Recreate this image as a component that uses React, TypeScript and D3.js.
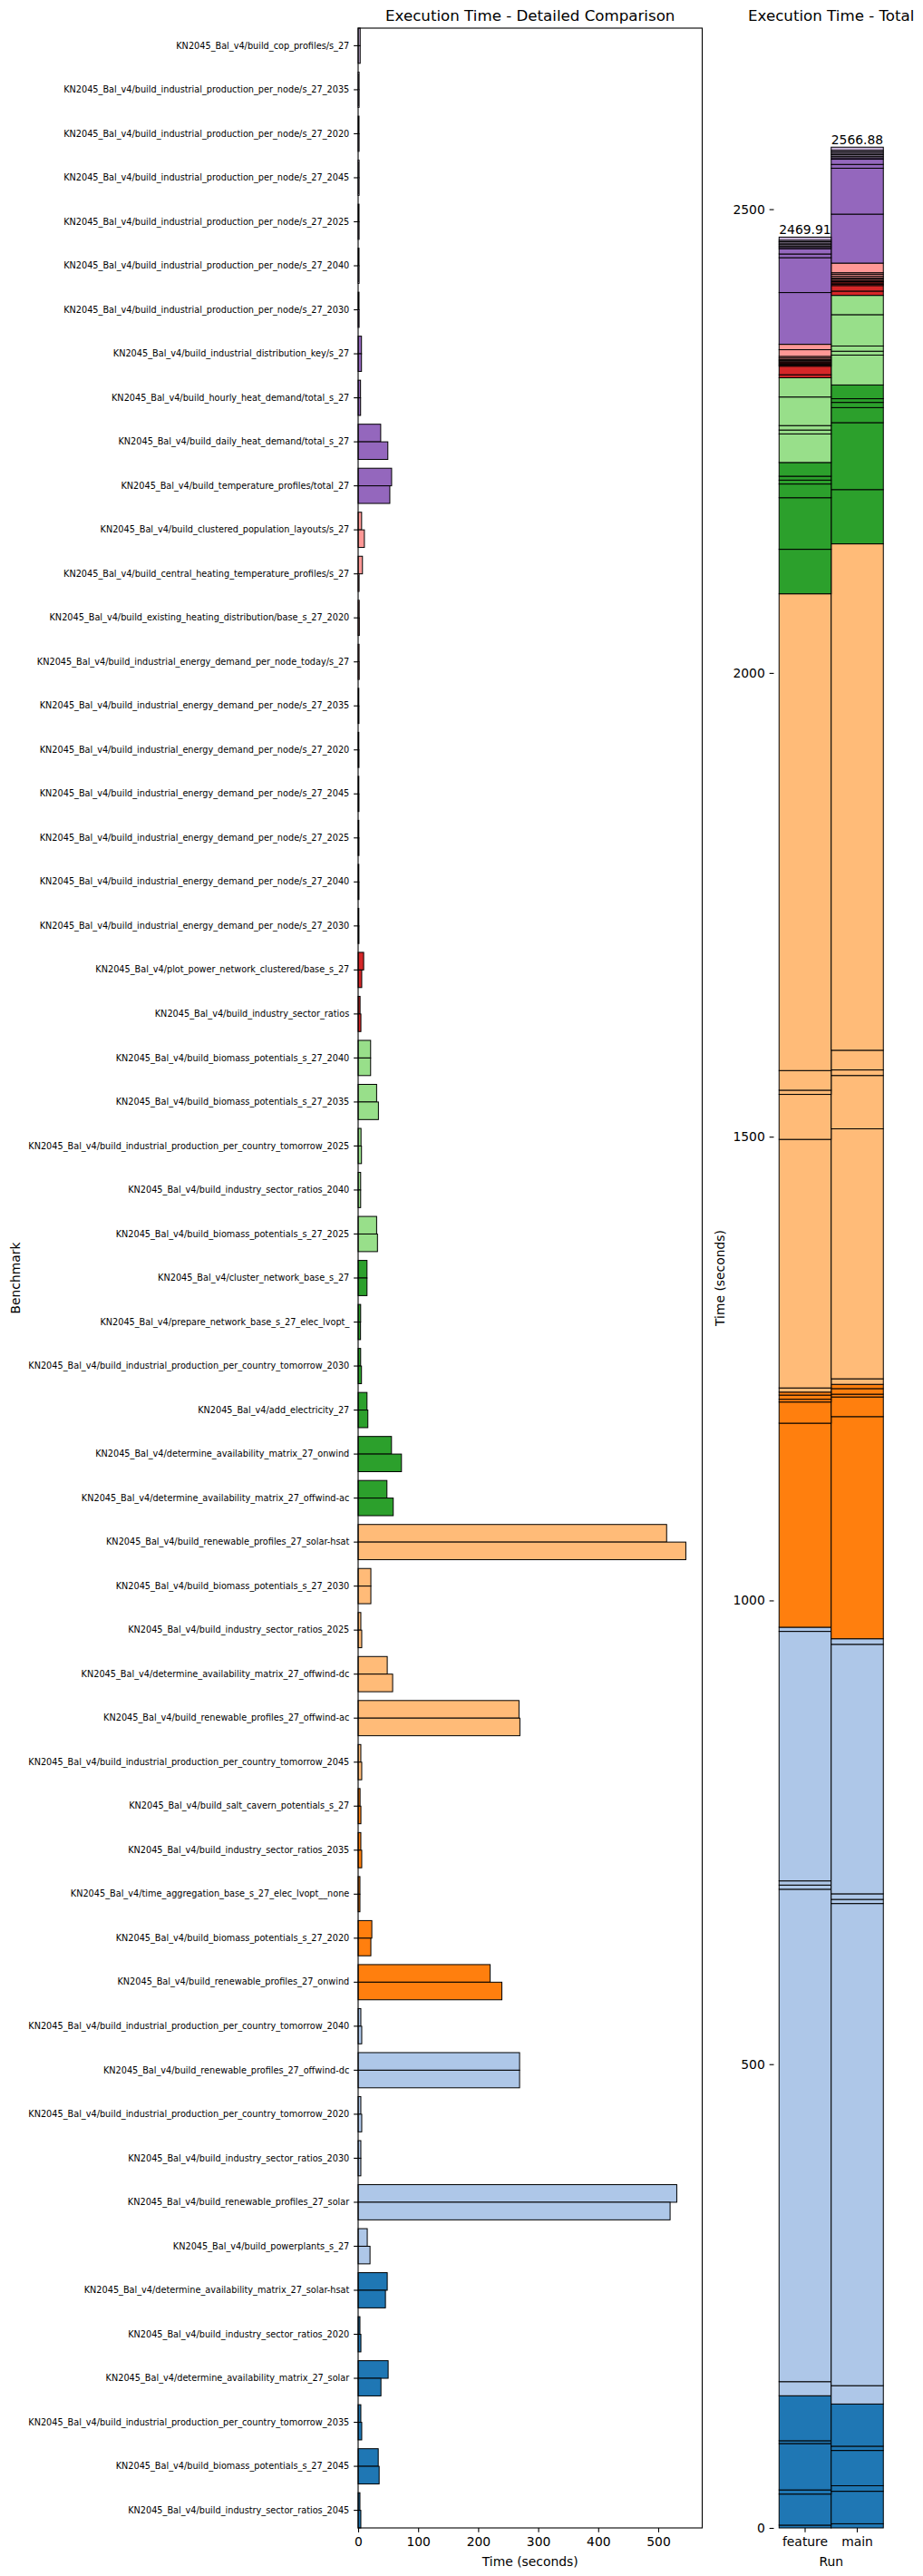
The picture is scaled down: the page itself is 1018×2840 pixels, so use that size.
import React, { useRef, useEffect } from "react";
import * as d3 from "d3";

// benchmark order as plotted: index 0 sits at the bottom of the chart
const benchmarks = [
  "KN2045_Bal_v4/build_industry_sector_ratios_2045",
  "KN2045_Bal_v4/build_biomass_potentials_s_27_2045",
  "KN2045_Bal_v4/build_industrial_production_per_country_tomorrow_2035",
  "KN2045_Bal_v4/determine_availability_matrix_27_solar",
  "KN2045_Bal_v4/build_industry_sector_ratios_2020",
  "KN2045_Bal_v4/determine_availability_matrix_27_solar-hsat",
  "KN2045_Bal_v4/build_powerplants_s_27",
  "KN2045_Bal_v4/build_renewable_profiles_27_solar",
  "KN2045_Bal_v4/build_industry_sector_ratios_2030",
  "KN2045_Bal_v4/build_industrial_production_per_country_tomorrow_2020",
  "KN2045_Bal_v4/build_renewable_profiles_27_offwind-dc",
  "KN2045_Bal_v4/build_industrial_production_per_country_tomorrow_2040",
  "KN2045_Bal_v4/build_renewable_profiles_27_onwind",
  "KN2045_Bal_v4/build_biomass_potentials_s_27_2020",
  "KN2045_Bal_v4/time_aggregation_base_s_27_elec_lvopt__none",
  "KN2045_Bal_v4/build_industry_sector_ratios_2035",
  "KN2045_Bal_v4/build_salt_cavern_potentials_s_27",
  "KN2045_Bal_v4/build_industrial_production_per_country_tomorrow_2045",
  "KN2045_Bal_v4/build_renewable_profiles_27_offwind-ac",
  "KN2045_Bal_v4/determine_availability_matrix_27_offwind-dc",
  "KN2045_Bal_v4/build_industry_sector_ratios_2025",
  "KN2045_Bal_v4/build_biomass_potentials_s_27_2030",
  "KN2045_Bal_v4/build_renewable_profiles_27_solar-hsat",
  "KN2045_Bal_v4/determine_availability_matrix_27_offwind-ac",
  "KN2045_Bal_v4/determine_availability_matrix_27_onwind",
  "KN2045_Bal_v4/add_electricity_27",
  "KN2045_Bal_v4/build_industrial_production_per_country_tomorrow_2030",
  "KN2045_Bal_v4/prepare_network_base_s_27_elec_lvopt_",
  "KN2045_Bal_v4/cluster_network_base_s_27",
  "KN2045_Bal_v4/build_biomass_potentials_s_27_2025",
  "KN2045_Bal_v4/build_industry_sector_ratios_2040",
  "KN2045_Bal_v4/build_industrial_production_per_country_tomorrow_2025",
  "KN2045_Bal_v4/build_biomass_potentials_s_27_2035",
  "KN2045_Bal_v4/build_biomass_potentials_s_27_2040",
  "KN2045_Bal_v4/build_industry_sector_ratios",
  "KN2045_Bal_v4/plot_power_network_clustered/base_s_27",
  "KN2045_Bal_v4/build_industrial_energy_demand_per_node/s_27_2030",
  "KN2045_Bal_v4/build_industrial_energy_demand_per_node/s_27_2040",
  "KN2045_Bal_v4/build_industrial_energy_demand_per_node/s_27_2025",
  "KN2045_Bal_v4/build_industrial_energy_demand_per_node/s_27_2045",
  "KN2045_Bal_v4/build_industrial_energy_demand_per_node/s_27_2020",
  "KN2045_Bal_v4/build_industrial_energy_demand_per_node/s_27_2035",
  "KN2045_Bal_v4/build_industrial_energy_demand_per_node_today/s_27",
  "KN2045_Bal_v4/build_existing_heating_distribution/base_s_27_2020",
  "KN2045_Bal_v4/build_central_heating_temperature_profiles/s_27",
  "KN2045_Bal_v4/build_clustered_population_layouts/s_27",
  "KN2045_Bal_v4/build_temperature_profiles/total_27",
  "KN2045_Bal_v4/build_daily_heat_demand/total_s_27",
  "KN2045_Bal_v4/build_hourly_heat_demand/total_s_27",
  "KN2045_Bal_v4/build_industrial_distribution_key/s_27",
  "KN2045_Bal_v4/build_industrial_production_per_node/s_27_2030",
  "KN2045_Bal_v4/build_industrial_production_per_node/s_27_2040",
  "KN2045_Bal_v4/build_industrial_production_per_node/s_27_2025",
  "KN2045_Bal_v4/build_industrial_production_per_node/s_27_2045",
  "KN2045_Bal_v4/build_industrial_production_per_node/s_27_2020",
  "KN2045_Bal_v4/build_industrial_production_per_node/s_27_2035",
  "KN2045_Bal_v4/build_cop_profiles/s_27",
];

// seconds, same order as benchmarks
const featureTimes = [
  3.0, 33.5, 4.5, 50.0, 3.0, 48.5,
  15.2, 530.91, 4.5, 4.5, 269.0, 4.5,
  220.0, 22.8, 3.0, 4.5, 3.2,
  4.5, 268.0, 48.5, 4.5, 21.2, 514.0,
  48.0, 55.6, 14.8, 4.2, 4.2, 14.8,
  30.8, 4.2, 4.8, 30.8, 20.8,
  3.2, 9.2,
  1.2, 1.2, 1.2, 1.2, 1.2, 1.2, 1.6, 1.8,
  7.2, 5.8,
  55.8, 37.6, 4.0, 5.6,
  1.5, 1.5, 1.5, 1.6, 1.5, 1.6, 3.4,
];

const mainTimes = [
  4.5, 35.0, 6.0, 38.0, 4.6, 45.5,
  19.8, 519.78, 4.5, 6.0, 269.0, 6.0,
  239.5, 21.2, 3.0, 6.0, 4.6,
  6.0, 269.5, 57.5, 6.0, 21.2, 546.0,
  58.5, 72.2, 16.2, 5.6, 4.0, 14.8,
  32.2, 4.2, 5.6, 33.8, 20.8,
  4.6, 6.0,
  1.4, 1.4, 1.4, 1.4, 1.4, 1.4, 1.8, 2.0,
  1.6, 10.4,
  52.8, 49.5, 4.1, 5.6,
  1.6, 1.6, 1.6, 1.6, 1.6, 1.6, 3.4,
];

const runs = ["feature", "main"];
const timeTicks = [0, 100, 200, 300, 400, 500];
const totalTicks = [0, 500, 1000, 1500, 2000, 2500];

const tab20 = [
  "#1f77b4", "#aec7e8", "#ff7f0e", "#ffbb78", "#2ca02c",
  "#98df8a", "#d62728", "#ff9896", "#9467bd", "#c5b0d5",
];
// benchmark index where the next colour starts
const colorBreaks = [6, 12, 17, 23, 29, 34, 40, 46, 51];

const W = 1018;
const H = 2840;
const FONT = "DejaVu Sans";
const PT = 100 / 72;

const App: React.FC = () => {
  const svgRef = useRef<SVGSVGElement>(null);

  useEffect(() => {
    if (!svgRef.current) return;
    const svg = d3.select(svgRef.current);
    svg.selectAll("*").remove();

    svg.append("rect").attr("width", W).attr("height", H).attr("fill", "white");

    const top = 31;
    const bottom = 2787;
    const tickLen = 3.5 * PT;
    const tickFs = 10 * PT;

    const color = d3.scaleThreshold<number, string>().domain(colorBreaks).range(tab20);

    const rows = benchmarks.map((name, i) => ({
      name,
      i,
      feature: featureTimes[i],
      main: mainTimes[i],
    }));

    // ---------- left: detailed comparison ----------
    const left = 395;
    const right = 774.5;
    const xMax = d3.max(rows, (d) => Math.max(d.feature, d.main))! * 1.05;
    const x = d3.scaleLinear().domain([0, xMax]).range([left, right]);
    const y = d3
      .scaleBand()
      .domain(benchmarks.slice().reverse())
      .range([top, bottom])
      .paddingInner(0.2)
      .paddingOuter(0);
    const yRun = d3.scaleBand().domain(runs).range([0, y.bandwidth()]);

    const gl = svg.append("g");
    rows.forEach((r) => {
      runs.forEach((run) => {
        const v = run === "feature" ? r.feature : r.main;
        gl.append("rect")
          .attr("x", x(0))
          .attr("y", y(r.name)! + yRun(run)!)
          .attr("width", x(v) - x(0))
          .attr("height", yRun.bandwidth())
          .attr("fill", color(r.i))
          .attr("stroke", "black")
          .attr("stroke-width", 1);
      });
    });

    gl.append("rect")
      .attr("x", left)
      .attr("y", top)
      .attr("width", right - left)
      .attr("height", bottom - top)
      .attr("fill", "none")
      .attr("stroke", "black")
      .attr("stroke-width", 1.1);

    const xAxis = gl
      .append("g")
      .attr("transform", `translate(0,${bottom})`)
      .call(
        d3.axisBottom(x).tickValues(timeTicks).tickFormat(d3.format("d")).tickSize(tickLen).tickPadding(tickLen)
      );
    const yAxis = gl
      .append("g")
      .attr("transform", `translate(${left},0)`)
      .call(d3.axisLeft(y).tickSize(tickLen).tickPadding(tickLen));
    xAxis.selectAll("text").attr("font-size", tickFs);
    yAxis.selectAll("text").attr("font-size", 7 * PT);

    gl.append("text")
      .attr("x", (left + right) / 2)
      .attr("y", 22.7)
      .attr("text-anchor", "middle")
      .attr("font-size", 12 * PT)
      .text("Execution Time - Detailed Comparison");
    gl.append("text")
      .attr("x", (left + right) / 2)
      .attr("y", 2829)
      .attr("text-anchor", "middle")
      .attr("font-size", tickFs)
      .text("Time (seconds)");
    gl.append("text")
      .attr("transform", `translate(22,${(top + bottom) / 2}) rotate(-90)`)
      .attr("text-anchor", "middle")
      .attr("font-size", tickFs)
      .text("Benchmark");

    // ---------- right: stacked totals ----------
    const rLeft = 853.5;
    const rRight = 980;
    const stackInput = runs.map((run) => {
      const o: any = { run };
      rows.forEach((r) => (o[r.name] = run === "feature" ? r.feature : r.main));
      return o;
    });
    const series = d3.stack<any>().keys(benchmarks)(stackInput);
    const totals = runs.map((run) => ({
      run,
      total: d3.sum(rows, (r) => (run === "feature" ? r.feature : r.main)),
    }));

    const xR = d3.scaleBand().domain(runs).range([rLeft, rRight]).paddingInner(0).paddingOuter(0.1);
    const yR = d3
      .scaleLinear()
      .domain([0, d3.max(totals, (d) => d.total)! * 1.05])
      .range([bottom, top]);

    const gr = svg.append("g");
    series.forEach((s, i) => {
      s.forEach((d) => {
        gr.append("rect")
          .attr("x", xR(d.data.run)!)
          .attr("y", yR(d[1]))
          .attr("width", xR.bandwidth())
          .attr("height", yR(d[0]) - yR(d[1]))
          .attr("fill", color(i))
          .attr("stroke", "black")
          .attr("stroke-width", 1);
      });
    });

    const fmt = d3.format(".2f");
    totals.forEach((t) => {
      gr.append("text")
        .attr("x", xR(t.run)! + xR.bandwidth() / 2)
        .attr("y", yR(t.total) - 3)
        .attr("text-anchor", "middle")
        .attr("font-size", tickFs)
        .text(fmt(t.total));
    });

    const yAxisR = gr
      .append("g")
      .attr("transform", `translate(${rLeft},0)`)
      .call(
        d3.axisLeft(yR).tickValues(totalTicks).tickFormat(d3.format("d")).tickSize(tickLen).tickPadding(tickLen)
      );
    const xAxisR = gr
      .append("g")
      .attr("transform", `translate(0,${bottom})`)
      .call(d3.axisBottom(xR).tickSize(tickLen).tickPadding(tickLen));
    yAxisR.selectAll("text").attr("font-size", tickFs);
    xAxisR.selectAll("text").attr("font-size", tickFs);

    gr.append("text")
      .attr("x", (rLeft + rRight) / 2)
      .attr("y", 22.7)
      .attr("text-anchor", "middle")
      .attr("font-size", 12 * PT)
      .text("Execution Time - Total");
    gr.append("text")
      .attr("x", (rLeft + rRight) / 2)
      .attr("y", 2829)
      .attr("text-anchor", "middle")
      .attr("font-size", tickFs)
      .text("Run");
    gr.append("text")
      .attr("transform", `translate(799,${(top + bottom) / 2}) rotate(-90)`)
      .attr("text-anchor", "middle")
      .attr("font-size", tickFs)
      .text("Time (seconds)");

    svg.selectAll(".tick line").attr("stroke", "black").attr("stroke-width", 1.1);
    svg.selectAll(".domain").remove();
    svg.selectAll("text").attr("font-family", FONT).attr("fill", "black");
  }, []);

  return (
    <svg
      ref={svgRef}
      width={W}
      height={H}
      style={{ position: "absolute", left: 0, top: 0, display: "block" }}
    />
  );
};

export default App;
